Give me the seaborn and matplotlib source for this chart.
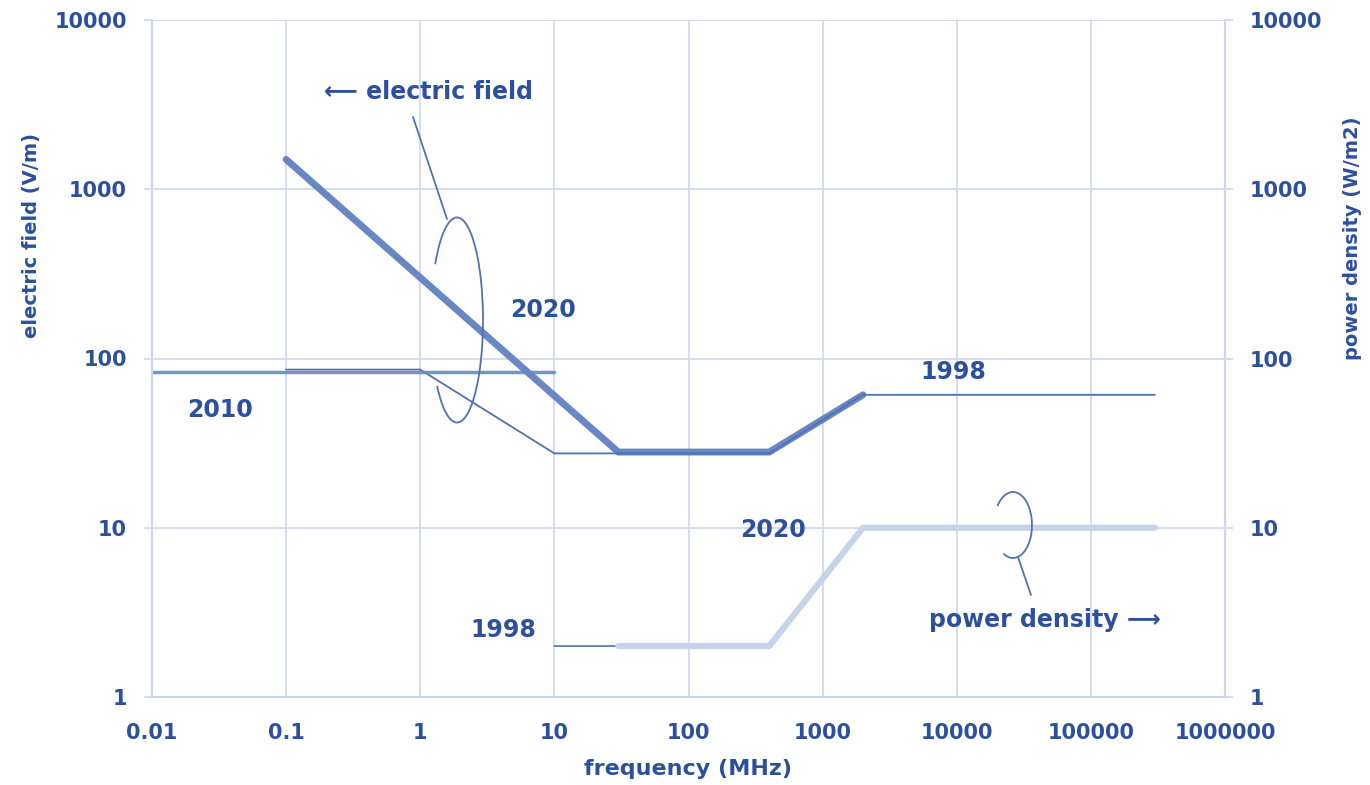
import matplotlib
matplotlib.use("Agg")
import numpy as np
import matplotlib.pyplot as plt
import seaborn as sns
from matplotlib.patches import Arc
from matplotlib.lines import Line2D

# electric field limits (V/m) vs frequency (MHz)
freq_e_2010 = [0.01, 10]
e_2010 = [83, 83]
freq_e_1998 = [0.1, 1, 10, 400, 2000, 300000]
e_1998 = [86, 86, 27.5, 27.5, 61, 61]
freq_e_2020 = [0.1, 30, 400, 2000]
e_2020 = [1500, 28, 28, 61]

# power density limits (W/m2)
freq_s_1998 = [10, 400, 2000, 300000]
s_1998 = [2, 2, 10, 10]
freq_s_2020 = [30, 400, 2000, 300000]
s_2020 = [2, 2, 10, 10]

x_ticks = [0.01, 0.1, 1, 10, 100, 1000, 10000, 100000, 1000000]
x_labels = ["0.01", "0.1", "1", "10", "100", "1000", "10000", "100000", "1000000"]
y_ticks = [1, 10, 100, 1000, 10000]
y_labels = ["1", "10", "100", "1000", "10000"]

TXT = "#2d509e"
GRID = "#cdd7ec"
DARK = "#6987c3"
THIN = "#5271b3"
LIGHT = "#c6d4ea"

sns.set_style("white")
plt.rcParams["font.family"] = ["DejaVu Sans"]

W, H = 1370, 785
fig = plt.figure(figsize=(W / 100, H / 100), dpi=100)
ax = fig.add_axes([152 / W, 88 / H, 1073 / W, 677 / H])
ax2 = ax.twinx()


def px(x, y):
    return x / W, 1 - y / H


def geo(t, w, h):
    # parametric ellipse angle -> angle Arc expects
    t = np.radians(t)
    return np.degrees(np.arctan2(h * np.sin(t), w * np.cos(t)))


# electric field lines (left axis)
sns.lineplot(x=freq_e_2020, y=e_2020, ax=ax, color=DARK, linewidth=5, estimator=None, sort=False, zorder=3)
sns.lineplot(x=freq_e_1998, y=e_1998, ax=ax, color=THIN, linewidth=1.3, estimator=None, sort=False, zorder=4)
sns.lineplot(x=freq_e_2010, y=e_2010, ax=ax, color=DARK, linewidth=2.5, estimator=None, sort=False, zorder=5, alpha=0.9)

# power density lines (right axis)
sns.lineplot(x=freq_s_1998, y=s_1998, ax=ax2, color=THIN, linewidth=1.2, estimator=None, sort=False, zorder=2)
sns.lineplot(x=freq_s_2020, y=s_2020, ax=ax2, color=LIGHT, linewidth=4.5, estimator=None, sort=False, zorder=3)

for a in (ax, ax2):
    a.set_xscale("log")
    a.set_yscale("log")
    a.set_xlim(0.01, 1e6)
    a.set_ylim(1, 1e4)
    a.set_yticks(y_ticks)
    a.set_yticklabels(y_labels, fontweight="bold", fontsize=15, color=TXT)
    a.minorticks_off()
    a.set_xlabel("")
    a.set_ylabel("")
    for s in a.spines.values():
        s.set_color(GRID)
        s.set_linewidth(1.5)
    a.spines["top"].set_visible(False)
    a.tick_params(axis="y", length=6, width=1.2, color=GRID, pad=12)

ax.set_xticks(x_ticks)
ax.set_xticklabels(x_labels, fontweight="bold", fontsize=15, color=TXT)
ax.minorticks_off()
ax.tick_params(axis="x", length=0, pad=19)
ax.grid(True, which="major", color=GRID, linewidth=1.2)
ax.set_axisbelow(True)
ax2.grid(False)

# axis titles
fig.text(*px(688, 769), "frequency (MHz)", ha="center", va="center", color=TXT, fontsize=16, fontweight="bold")
fig.text(*px(31, 235), "electric field (V/m)", ha="center", va="center", rotation=90, color=TXT, fontsize=14, fontweight="bold")
fig.text(*px(1352, 238), "power density (W/m2)", ha="center", va="center", rotation=90, color=TXT, fontsize=14, fontweight="bold")

# annotations
lbl = dict(ha="center", va="center", color=TXT, fontsize=17, fontweight="bold")
fig.text(*px(428, 92), "\u27f5 electric field", **lbl)
fig.text(*px(543, 310), "2020", **lbl)
fig.text(*px(220, 410), "2010", **lbl)
fig.text(*px(953, 372), "1998", **lbl)
fig.text(*px(773, 530), "2020", **lbl)
fig.text(*px(503, 630), "1998", **lbl)
fig.text(*px(1045, 620), "power density \u27f6", **lbl)

# bracket loops with leader lines
w1, h1 = 52 / W, 205 / H
fig.add_artist(Arc(px(457, 320), w1, h1, theta1=geo(-140, w1, h1), theta2=geo(147, w1, h1),
                   transform=fig.transFigure, color=THIN, lw=1.3))
fig.add_artist(Line2D([413 / W, 447 / W], [1 - 117 / H, 1 - 219 / H],
                      transform=fig.transFigure, color=THIN, lw=1.3))
w2, h2 = 38 / W, 66 / H
fig.add_artist(Arc(px(1013, 525), w2, h2, theta1=geo(-120, w2, h2), theta2=geo(145, w2, h2),
                   transform=fig.transFigure, color=THIN, lw=1.3))
fig.add_artist(Line2D([1018 / W, 1031 / W], [1 - 557 / H, 1 - 595 / H],
                      transform=fig.transFigure, color=THIN, lw=1.3))

fig.savefig("out.png", dpi=100)
